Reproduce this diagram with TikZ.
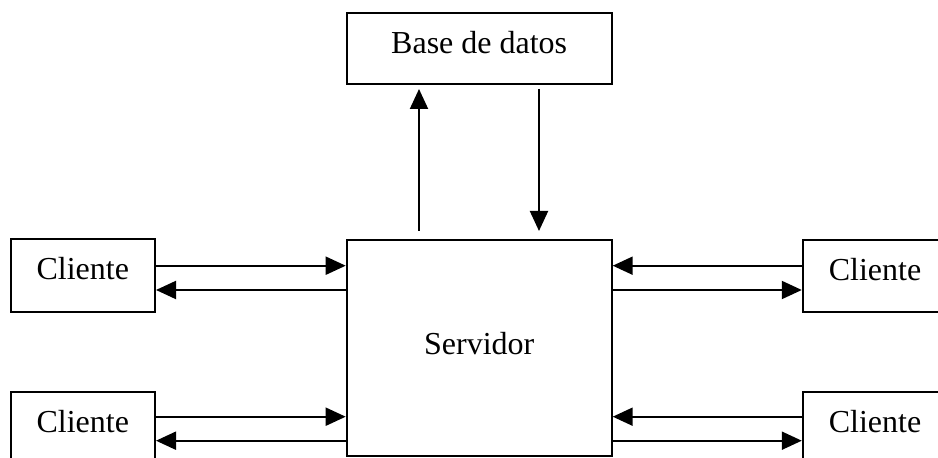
\documentclass[tikz,border=0pt]{standalone}
\usepackage{fontspec}
\setmainfont{Liberation Serif}
\usetikzlibrary{arrows.meta}
\begin{document}
\begin{tikzpicture}[x=0.5pt,y=-0.5pt,
  box/.style={draw,line width=1pt,inner sep=0pt,text height=10.9pt,text depth=6.5pt,font=\fontsize{16}{19}\selectfont},
  arr/.style={line width=1pt,-{Triangle[length=10pt,width=9pt]}}]
\useasboundingbox (0,0) rectangle (938,458);
\clip (0,0) rectangle (938,458);
\node[box,minimum width=132.5pt,minimum height=35.3pt] (db) at (479.2,48.7) {Base de datos};
\node[box,text depth=3.7pt,minimum width=132.5pt,minimum height=107.8pt] (srv) at (479.2,347.8) {Servidor};
\node[box,minimum width=72.2pt,minimum height=36.2pt] (c1) at (82.8,275.5) {Cliente};
\node[box,minimum width=72.2pt,minimum height=36.2pt] (c2) at (82.8,427.9) {Cliente};
\node[box,minimum width=72.2pt,minimum height=36.2pt] (c3) at (875,276) {Cliente};
\node[box,minimum width=72.2pt,minimum height=36.2pt] (c4) at (875,427.9) {Cliente};
% vertical
\draw[arr] ([xshift=-30.1pt,yshift=4pt]srv.north) -- ([xshift=-30.1pt,yshift=-2pt]db.south);
\draw[arr] ([xshift=29.9pt,yshift=-2pt]db.south) -- ([xshift=29.9pt,yshift=4pt]srv.north);
% left top
\draw[arr] ([yshift=4.9pt]c1.east) -- ([yshift=4.9pt]c1.east -| srv.west);
\draw[arr] ([yshift=-7.25pt]c1.east -| srv.west) -- ([yshift=-7.25pt]c1.east);
% left bottom
\draw[arr] ([yshift=5.6pt]c2.east) -- ([yshift=5.6pt]c2.east -| srv.west);
\draw[arr] ([yshift=-6.4pt]c2.east -| srv.west) -- ([yshift=-6.4pt]c2.east);
% right top
\draw[arr] ([yshift=5.15pt]c3.west) -- ([yshift=5.15pt]c3.west -| srv.east);
\draw[arr] ([yshift=-7pt]c3.west -| srv.east) -- ([yshift=-7pt]c3.west);
% right bottom
\draw[arr] ([yshift=5.6pt]c4.west) -- ([yshift=5.6pt]c4.west -| srv.east);
\draw[arr] ([yshift=-6.4pt]c4.west -| srv.east) -- ([yshift=-6.4pt]c4.west);
\end{tikzpicture}
\end{document}
